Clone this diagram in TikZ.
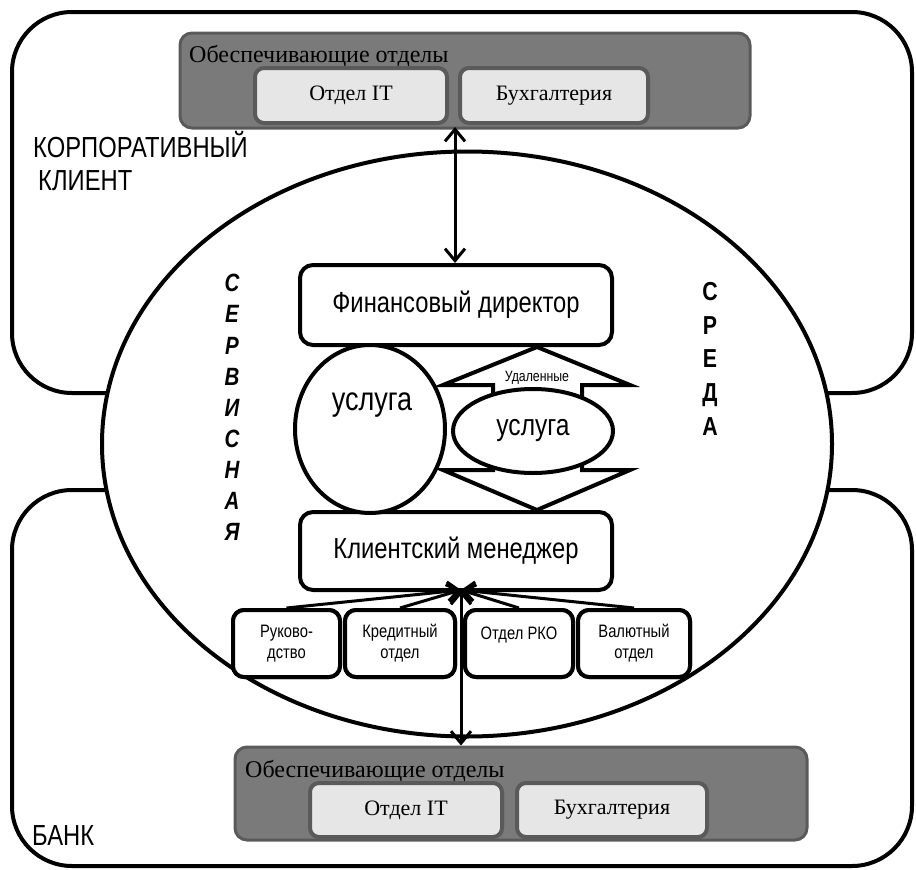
\documentclass[tikz,border=0pt]{standalone}
\usepackage{fontspec}
\setmainfont{Liberation Sans}
\newfontfamily\sansn{Liberation Sans}[FakeStretch=0.82]
\newfontfamily\serifn{Liberation Serif}
\usetikzlibrary{shapes.geometric,arrows.meta}
\definecolor{boxgray}{HTML}{7A7A7A}
\definecolor{edgegray}{HTML}{5A5A5A}
\definecolor{lightgray}{HTML}{E6E6E6}
\newcommand{\fsz}[2]{\fontsize{#1}{#2}\selectfont}
\newcommand{\vstack}[1]{\scalebox{0.82}[1]{\begin{tabular}{@{}c@{}}#1\end{tabular}}}
\begin{document}
\begin{tikzpicture}[x=1pt,y=-1pt,
  outer/.style={draw, line width=4pt, rounded corners=60pt, inner sep=0pt},
  env/.style={ellipse, draw, fill=white, line width=4pt, inner sep=0pt},
  graybox/.style={draw=edgegray, fill=boxgray, line width=3pt, rounded corners=12pt, inner sep=0pt},
  lightbox/.style={draw=edgegray, fill=lightgray, line width=4pt, rounded corners=9pt, inner sep=0pt, font=\serifn\fsz{22}{26}},
  rolebox/.style={draw, fill=white, line width=4pt, rounded corners=13pt, inner sep=0pt, font=\sansn\fsz{29}{34}},
  deptbox/.style={draw, fill=white, line width=4pt, rounded corners=11pt, inner sep=0pt, align=center, font=\sansn\fsz{18}{21}},
  oval/.style={ellipse, draw, fill=white, line width=4pt, inner sep=0pt},
  lbl/.style={inner sep=0pt, font=\sansn\fsz{29}{33}},
  titletext/.style={inner sep=0pt, anchor=base west, font=\serifn\fsz{24}{28}},
  arr/.style={line width=3pt, -{Straight Barb[length=11pt,width=19pt]}},
  darr/.style={line width=3pt, {Straight Barb[length=12pt,width=20pt]}-{Straight Barb[length=12pt,width=20pt]}}
]
\useasboundingbox (0,0) rectangle (916,870);

% outer areas
\node[outer, minimum width=900pt, minimum height=381pt] (corp) at (462,202.5) {};
\node[outer, minimum width=900pt, minimum height=376pt] (bank) at (462,678) {};

% service environment
\node[env, minimum width=730pt, minimum height=585pt] (envir) at (467,444) {};

% top supporting departments
\node[graybox, minimum width=570pt, minimum height=95pt] (topgray) at (465,80.5) {};
\node[titletext] (toptitle) at (189,62) {Обеспечивающие отделы};
\node[lightbox, minimum width=192pt, minimum height=55pt] (topit) at (351,95.5) {Отдел IT};
\node[lightbox, minimum width=188pt, minimum height=55pt] (topacc) at (554,95.5) {Бухгалтерия};

% bottom supporting departments
\node[graybox, minimum width=572pt, minimum height=93pt] (botgray) at (521,793.5) {};
\node[titletext] (bottitle) at (245,777) {Обеспечивающие отделы};
\node[lightbox, minimum width=192pt, minimum height=54pt] (botit) at (406,810) {Отдел IT};
\node[lightbox, minimum width=190pt, minimum height=54pt] (botacc) at (612,810) {Бухгалтерия};

% roles
\node[rolebox, minimum width=312pt, minimum height=80pt] (fin) at (456,305) {Финансовый директор};
\node[rolebox, minimum width=312pt, minimum height=78pt] (mgr) at (456,551) {Клиентский менеджер};
\coordinate (hub) at (461,590);

% top connector
\draw[darr] (fin.north -| 455,0) -- (455,127);

% remote double arrow
\draw[line width=4pt, fill=white, line join=miter]
  (537,347) -- (630,385) -- (582,385) -- (582,470) -- (630,470) -- (537,510)
  -- (443,470) -- (493,470) -- (493,385) -- (443,385) -- cycle;
\node[inner sep=0pt, font=\sansn\fsz{15}{18}] (remote) at (537,378) {Удаленные};

% services
\node[oval, minimum width=150pt, minimum height=168pt] (svc1) at (370,429) {};
\node[inner sep=0pt, font=\sansn\fsz{33}{36}] (svc1t) at (372,405) {услуга};
\node[oval, minimum width=160pt, minimum height=84pt, font=\sansn\fsz{30}{34}] (svc2) at (533,431) {услуга};

% bank departments (positions)
\node[deptbox, minimum width=107pt, minimum height=67pt] (rk) at (286.5,643.5) {Руково-\\дство};
\node[deptbox, minimum width=110pt, minimum height=67pt] (kr) at (400,643.5) {Кредитный\\отдел};
\node[deptbox, minimum width=108pt, minimum height=67pt] (rko) at (519,643.5) {Отдел РКО\\\mbox{}};
\node[deptbox, minimum width=112pt, minimum height=67pt] (val) at (634,643.5) {Валютный\\отдел};

\draw[arr] (rk.north) -- (hub);
\draw[arr] (kr.north) -- (hub);
\draw[arr] (rko.north) -- (hub);
\draw[arr] (val.north) -- (hub);
\draw[darr] (hub) -- (hub |- botgray.north);

% boxes drawn again over the arrow starts
\node[deptbox, minimum width=107pt, minimum height=67pt] (rkf) at (rk) {Руково-\\дство};
\node[deptbox, minimum width=110pt, minimum height=67pt] (krf) at (kr) {Кредитный\\отдел};
\node[deptbox, minimum width=108pt, minimum height=67pt] (rkof) at (rko) {Отдел РКО\\\mbox{}};
\node[deptbox, minimum width=112pt, minimum height=67pt] (valf) at (val) {Валютный\\отдел};

% labels
\node[lbl, anchor=base west] (corplbl) at (33,157) {КОРПОРАТИВНЫЙ};
\node[lbl, anchor=base west] (corplbl2) at (38,190) {КЛИЕНТ};
\node[lbl, anchor=base west] (banklbl) at (32,845) {БАНК};
\node[inner sep=0pt, font=\bfseries\itshape\fsz{25}{31.1}] (serv) at (232,410) {\vstack{С\\Е\\Р\\В\\И\\С\\Н\\А\\Я}};
\node[inner sep=0pt, font=\bfseries\fsz{26}{33.75}] (sreda) at (710,361) {\vstack{С\\Р\\Е\\Д\\А}};
\end{tikzpicture}
\end{document}
